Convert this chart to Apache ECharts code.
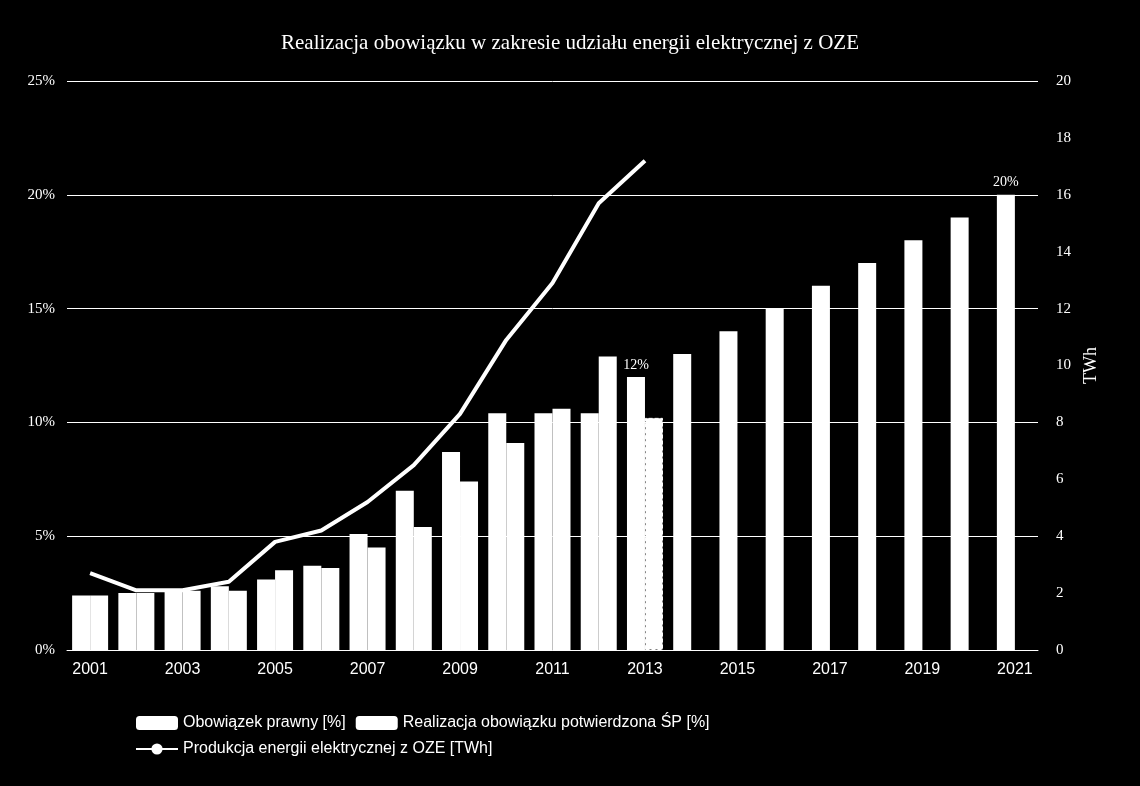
<!DOCTYPE html>
<html>
<head>
<meta charset="utf-8">
<script src="https://cdn.jsdelivr.net/npm/echarts@6/dist/echarts.min.js"></script>
<style>html,body{margin:0;background:#000}#c{width:1140px;height:786px}</style>
</head>
<body>
<div id="c"></div>
<script>
var years = ['2001','2002','2003','2004','2005','2006','2007','2008','2009','2010','2011','2012','2013','2014','2015','2016','2017','2018','2019','2020','2021'];
var obowiazek = [2.4, 2.5, 2.6, 2.8, 3.1, 3.7, 5.1, 7.0, 8.7, 10.4, 10.4, 10.4, 12.0, 13, 14, 15, 16, 17, 18, 19, 20];
var realizacja = [2.4, 2.5, 2.6, 2.6, 3.5, 3.6, 4.5, 5.4, 7.4, 9.1, 10.6, 12.9, 10.2];
var produkcja = [2.7, 2.1, 2.1, 2.4, 3.8, 4.2, 5.2, 6.5, 8.3, 10.9, 12.9, 15.7, 17.2];

var serif = '"Liberation Serif", "DejaVu Serif", serif';
var sans = '"Liberation Sans", Arial, sans-serif';

var chart = echarts.init(document.getElementById('c'));

var obData = obowiazek.map(function (v, i) {
    var d = {value: v};
    if (years[i] === '2013' || years[i] === '2021') {
        d.label = {show: true, position: 'top', formatter: v + '%', color: '#fff', fontFamily: serif, fontSize: 14};
    }
    return d;
});
var reData = realizacja.map(function (v, i) {
    if (i === realizacja.length - 1) {
        return {value: v, itemStyle: {borderColor: '#fff', borderType: 'dashed', borderWidth: 1}};
    }
    return v;
});
var lineData = produkcja.map(function (v, i) {
    if (i === produkcja.length - 1) {
        return {value: v, label: {show: true, position: 'top', distance: 12, formatter: '17,2', color: '#fff', fontFamily: serif, fontSize: 14}};
    }
    return v;
});

chart.setOption({
    backgroundColor: '#000',
    animation: false,
    title: {
        text: 'Realizacja obowiązku w zakresie udziału energii elektrycznej z OZE',
        left: 'center', top: 28,
        textStyle: {color: '#fff', fontFamily: serif, fontSize: 21, fontWeight: 'normal'}
    },
    grid: {left: 67, right: 102, top: 81, bottom: 136},
    legend: {
        bottom: 24, left: 130, width: 900, itemGap: 10,
        itemWidth: 42, itemHeight: 14,
        textStyle: {color: '#fff', fontFamily: sans, fontSize: 16, width: 400},
        data: ['Obowiązek prawny [%]', 'Realizacja obowiązku potwierdzona ŚP [%]', 'Produkcja energii elektrycznej z OZE [TWh]']
    },
    xAxis: {
        type: 'category', data: years,
        axisLine: {lineStyle: {color: '#fff'}}, axisTick: {show: false},
        axisLabel: {color: '#fff', fontFamily: sans, fontSize: 16, margin: 12}
    },
    yAxis: [{
        type: 'value', min: 0, max: 25, interval: 5,
        axisLabel: {color: '#fff', fontFamily: serif, fontSize: 15, formatter: '{value}%', margin: 12},
        splitLine: {lineStyle: {color: '#fff', width: 1}}
    }, {
        type: 'value', min: 0, max: 20, interval: 2,
        name: 'TWh', nameLocation: 'middle', nameGap: 42, nameRotate: 90,
        nameTextStyle: {color: '#fff', fontFamily: serif, fontSize: 18},
        axisLabel: {color: '#fff', fontFamily: serif, fontSize: 15, margin: 18},
        splitLine: {show: false}
    }],
    series: [{
        name: 'Obowiązek prawny [%]', type: 'bar', data: obData,
        barWidth: 18, barGap: '0%', itemStyle: {color: '#fff'}
    }, {
        name: 'Realizacja obowiązku potwierdzona ŚP [%]', type: 'bar', data: reData,
        barWidth: 18, itemStyle: {color: '#fff'}
    }, {
        name: 'Produkcja energii elektrycznej z OZE [TWh]', type: 'line', yAxisIndex: 1, data: lineData,
        symbol: 'none', lineStyle: {color: '#fff', width: 4}, itemStyle: {color: '#fff'}
    }]
});
</script>
</body>
</html>
